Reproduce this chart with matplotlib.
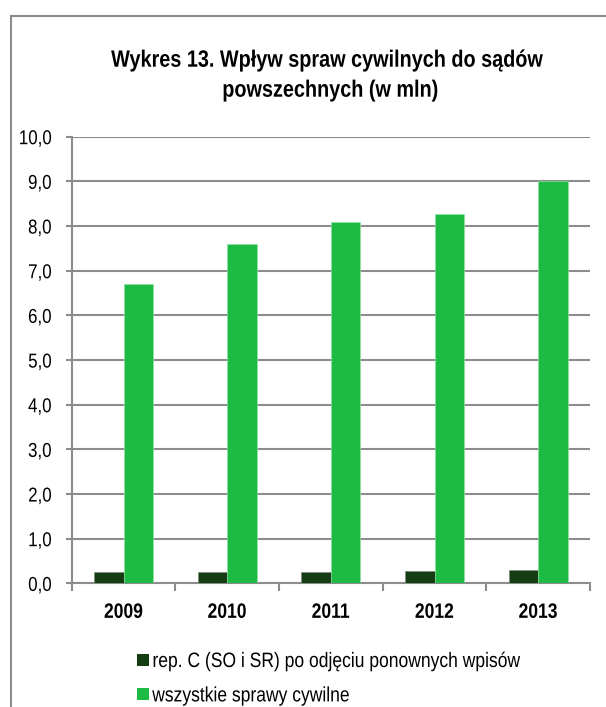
import numpy as np
import matplotlib
matplotlib.use('Agg')
import matplotlib.pyplot as plt
from matplotlib.lines import Line2D
from matplotlib.patches import Patch
from matplotlib.patheffects import AbstractPathEffect
from matplotlib.transforms import Affine2D

# ── Data ──────────────────────────────────────────────────────────────────────
years = ['2009', '2010', '2011', '2012', '2013']
rep_c = [0.25, 0.26, 0.26, 0.28, 0.31]          # rep. C (SO i SR) po odjęciu ponownych wpisów
all_civil = [6.70, 7.59, 8.08, 8.28, 9.00]      # wszystkie sprawy cywilne
y_ticks = [0, 1, 2, 3, 4, 5, 6, 7, 8, 9, 10]

series_labels = ['rep. C (SO i SR) po odjęciu ponownych wpisów',
                 'wszystkie sprawy cywilne']

# ── Style ─────────────────────────────────────────────────────────────────────
DARK = '#143d12'
GREEN = '#1dbb44'
GRID = '#8c8c8c'
SQUEEZE = 0.84   # no Arial Narrow here, so squash Liberation Sans sideways

plt.rcParams['font.family'] = ['Liberation Sans', 'DejaVu Sans']


class Narrow(AbstractPathEffect):
    """Compress glyph paths horizontally around left / center / right."""

    def __init__(self, sx=SQUEEZE, anchor='left'):
        super().__init__()
        self.sx = sx
        self.anchor = anchor

    def draw_path(self, renderer, gc, tpath, affine, rgbFace=None):
        ext = tpath.get_extents()
        px = {'left': ext.x0, 'center': (ext.x0 + ext.x1) / 2,
              'right': ext.x1}[self.anchor]
        squash = Affine2D().translate(-px, 0).scale(self.sx, 1).translate(px, 0)
        renderer.draw_path(gc, tpath, squash + affine, rgbFace)


W, H = 606, 707
fig = plt.figure(figsize=(W / 100, H / 100), dpi=100, facecolor='white')
ax = fig.add_axes([71.7 / W, 1 - 583.4 / H, (590 - 71.7) / W, (583.4 - 136.7) / H])

x = np.arange(len(years))
bw = 0.284
ax.bar(x - bw / 2, rep_c, width=bw, color=DARK, edgecolor='#7a8a78',
       linewidth=0.5, zorder=3)
ax.bar(x + bw / 2, all_civil, width=bw, color=GREEN, edgecolor='#8fe0a0',
       linewidth=0.5, zorder=3)

ax.set_xlim(-0.5, len(years) - 0.5)
ax.set_ylim(0, 10)
ax.set_yticks(y_ticks)
ax.set_yticklabels([f'{v:.1f}'.replace('.', ',') for v in y_ticks], fontsize=14.5)
ax.yaxis.grid(True, color=GRID, linewidth=1.5, zorder=0)
ax.set_axisbelow(True)

ax.set_xticks(x)
ax.set_xticklabels(years, fontsize=15, fontweight='bold')
ax.set_xticks(np.arange(len(years) + 1) - 0.5, minor=True)
ax.tick_params(axis='x', which='major', length=0, pad=14)
ax.tick_params(axis='x', which='minor', length=6, width=1.5, color=GRID)
ax.tick_params(axis='y', length=4.5, width=1.5, color=GRID, pad=10)

for lbl in ax.get_yticklabels():
    lbl.set_path_effects([Narrow(anchor='right')])
for lbl in ax.get_xticklabels():
    lbl.set_path_effects([Narrow(anchor='center')])

for side in ['top', 'right']:
    ax.spines[side].set_visible(False)
for side in ['left', 'bottom']:
    ax.spines[side].set_color(GRID)
    ax.spines[side].set_linewidth(1.5)

# ── Title ─────────────────────────────────────────────────────────────────────
fig.text(327.5 / W, 1 - 66.7 / H, 'Wykres 13. Wpływ spraw cywilnych do sądów',
         ha='center', va='baseline', fontsize=17, fontweight='bold',
         path_effects=[Narrow(anchor='center')])
fig.text(330.5 / W, 1 - 96.7 / H, 'powszechnych (w mln)',
         ha='center', va='baseline', fontsize=17, fontweight='bold',
         path_effects=[Narrow(anchor='center')])

# ── Legend ────────────────────────────────────────────────────────────────────
handles = [Patch(facecolor=DARK, edgecolor='none'),
           Patch(facecolor=GREEN, edgecolor='none')]
leg = fig.legend(handles, series_labels, loc='upper left',
                 bbox_to_anchor=(137 / W, 1 - 652 / H), frameon=False,
                 fontsize=15, handlelength=0.58, handleheight=0.5,
                 handletextpad=0.15, labelspacing=0.74, borderpad=0,
                 borderaxespad=0)
for t in leg.get_texts():
    t.set_path_effects([Narrow()])

# ── Outer frame ───────────────────────────────────────────────────────────────
fig.add_artist(Line2D([10.7 / W, 10.7 / W], [0, 1 - 16 / H],
                      transform=fig.transFigure, color='#8c8c8c', linewidth=1.5))
fig.add_artist(Line2D([10.7 / W, 1], [1 - 16 / H, 1 - 16 / H],
                      transform=fig.transFigure, color='#8c8c8c', linewidth=1.5))

fig.savefig('out.png', dpi=100, facecolor='white')
